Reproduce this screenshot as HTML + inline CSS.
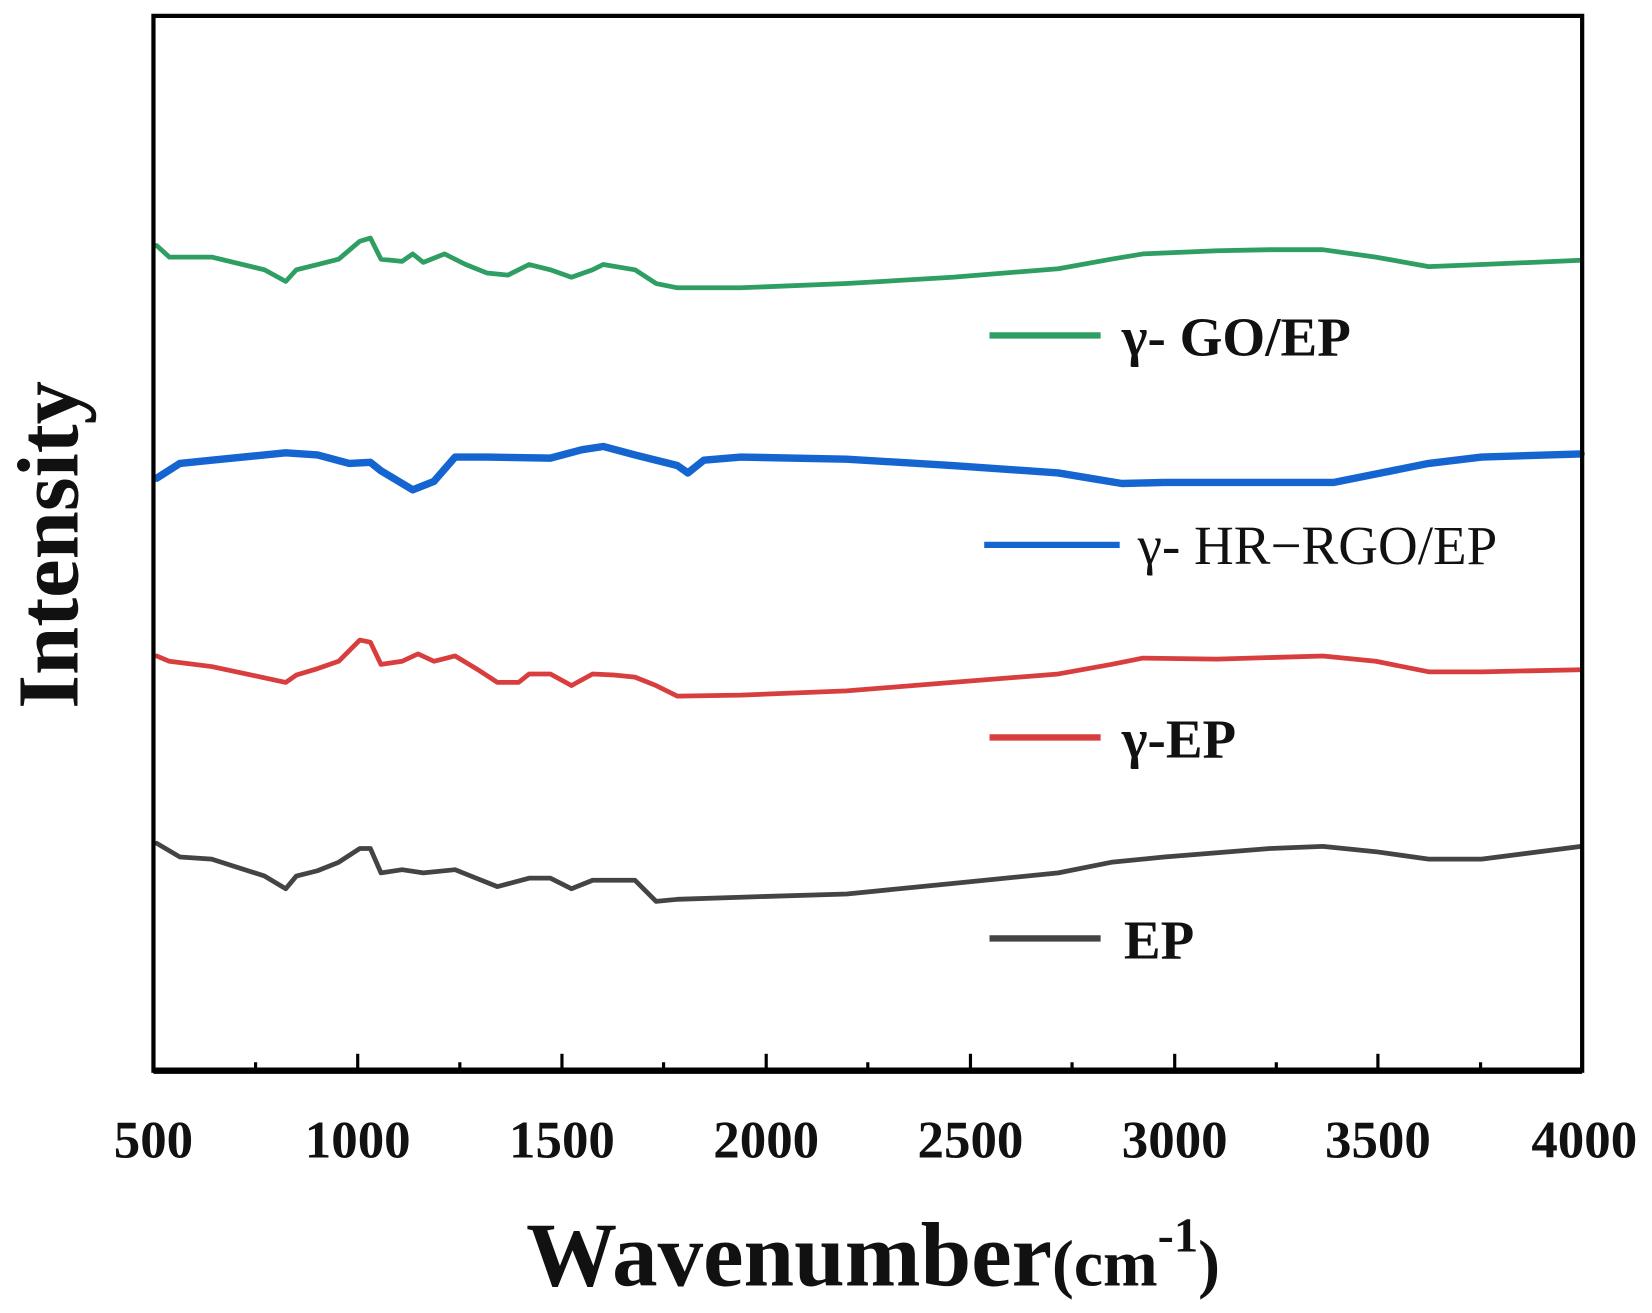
<!DOCTYPE html>
<html><head><meta charset="utf-8"><style>
html,body{margin:0;padding:0;background:#fff;}
svg{display:block;}
text{font-family:"Liberation Serif",serif;font-weight:bold;fill:#111;}
</style></head><body>
<svg width="1652" height="1313" viewBox="0 0 1561 1241" preserveAspectRatio="none" xmlns="http://www.w3.org/2000/svg">
<rect x="0" y="0" width="1561" height="1241" fill="#fff"/>
<g fill="none" stroke-linejoin="round" stroke-linecap="round">
<polyline stroke="#2e9e62" stroke-width="4.5" points="148,232 160,243 200,243 250,255 270,266 280,255 300,250 320,245 340,228 350,225 360,245 380,247 390,240 400,248 420,240 440,250 460,258 480,260 500,250 520,255 540,262 560,255 570,250 600,255 620,268 640,272 700,272 800,268 900,262 1000,254 1050,245 1080,240 1150,237 1200,236 1250,236 1300,243 1350,252 1400,250 1494,246"/>
<polyline stroke="#1565d0" stroke-width="7" points="148,452 170,438 200,435 270,428 300,430 330,438 350,437 360,445 390,463 410,455 430,432 460,432 520,433 550,425 570,422 600,430 640,440 650,447 665,435 700,432 800,434 900,440 1000,447 1060,457 1100,456 1200,456 1260,456 1300,448 1350,438 1400,432 1494,429"/>
<polyline stroke="#d93e3e" stroke-width="4.5" points="148,620 160,625 200,630 270,645 280,638 300,632 320,625 340,605 350,607 360,628 380,625 395,618 410,625 430,620 450,632 470,645 490,645 500,637 520,637 540,648 560,637 580,638 600,640 620,648 640,658 700,657 800,653 900,645 1000,637 1050,628 1080,622 1150,623 1250,620 1300,625 1350,635 1400,635 1494,633"/>
<polyline stroke="#444" stroke-width="4.5" points="148,797 170,810 200,812 250,828 270,840 280,828 300,823 320,815 340,802 350,802 360,825 380,822 400,825 430,822 450,830 470,838 500,830 520,830 540,840 560,832 600,832 620,852 640,850 700,848 800,845 900,835 1000,825 1050,815 1100,810 1200,802 1250,800 1300,805 1350,812 1400,812 1494,800"/>
</g>
<rect x="145" y="15" width="1350" height="997" fill="none" stroke="#000" stroke-width="4"/>
<line x1="145" y1="1012" x2="1495" y2="1012" stroke="#000" stroke-width="6"/>
<g stroke="#000" stroke-width="3">
<line x1="241.5" y1="1012" x2="241.5" y2="1004"/>
<line x1="338" y1="1012" x2="338" y2="996"/>
<line x1="434.5" y1="1012" x2="434.5" y2="1004"/>
<line x1="531" y1="1012" x2="531" y2="996"/>
<line x1="627" y1="1012" x2="627" y2="1004"/>
<line x1="724" y1="1012" x2="724" y2="996"/>
<line x1="820" y1="1012" x2="820" y2="1004"/>
<line x1="917" y1="1012" x2="917" y2="996"/>
<line x1="1013" y1="1012" x2="1013" y2="1004"/>
<line x1="1110" y1="1012" x2="1110" y2="996"/>
<line x1="1206" y1="1012" x2="1206" y2="1004"/>
<line x1="1302" y1="1012" x2="1302" y2="996"/>
<line x1="1399" y1="1012" x2="1399" y2="1004"/>
</g>
<g font-size="50" text-anchor="middle">
<text x="145" y="1094">500</text>
<text x="338" y="1094">1000</text>
<text x="531" y="1094">1500</text>
<text x="724" y="1094">2000</text>
<text x="917" y="1094">2500</text>
<text x="1110" y="1094">3000</text>
<text x="1302" y="1094">3500</text>
<text x="1497" y="1094">4000</text>
</g>
<text x="825" y="1215" font-size="86" text-anchor="middle">Wavenumber<tspan font-size="62">(cm</tspan><tspan font-size="46" dy="-32">-1</tspan><tspan font-size="62" dy="32">)</tspan></text>
<text transform="translate(73,515) rotate(-90)" font-size="82" text-anchor="middle">Intensity</text>
<g stroke-width="6">
<line x1="935" y1="317" x2="1040" y2="317" stroke="#2e9e62"/>
<line x1="930" y1="515" x2="1058" y2="515" stroke="#1565d0"/>
<line x1="935" y1="697" x2="1040" y2="697" stroke="#d93e3e"/>
<line x1="935" y1="887" x2="1040" y2="887" stroke="#444"/>
</g>
<g font-size="52">
<text x="1060" y="336">γ- GO/EP</text>
<text x="1075" y="533" style="font-weight:normal">γ- HR−RGO/EP</text>
<text x="1060" y="716">γ-EP</text>
<text x="1062" y="906">EP</text>
</g>
</svg>
</body></html>
